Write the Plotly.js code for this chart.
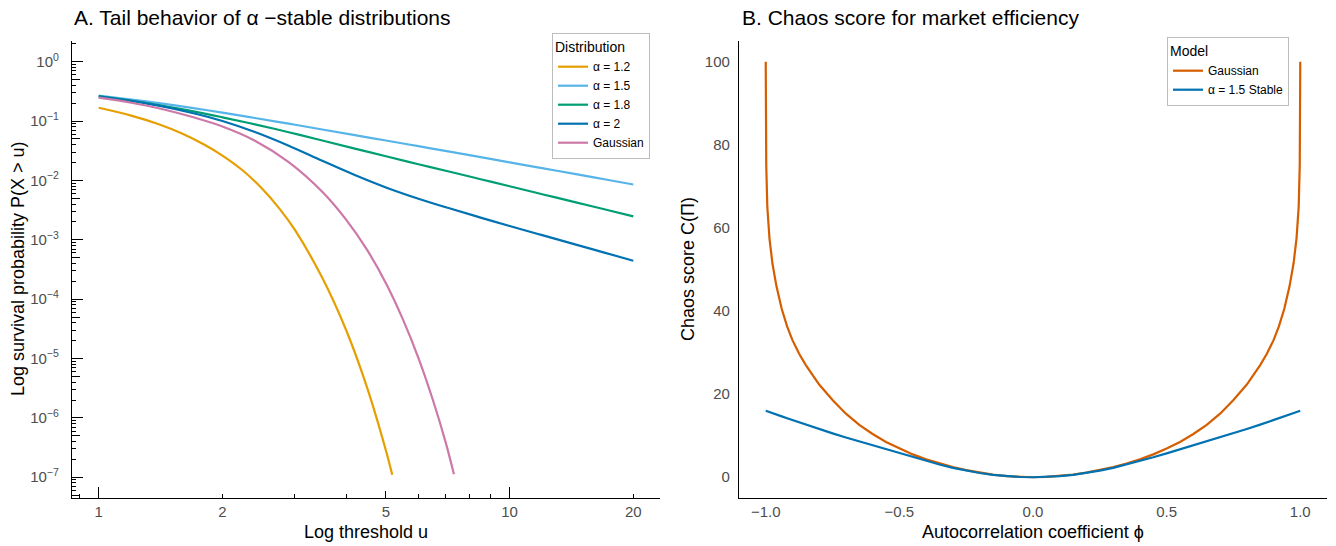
<!DOCTYPE html>
<html>
<head>
<meta charset="utf-8">
<script src="https://cdn.plot.ly/plotly-3.0.1.min.js"></script>
<style>html,body{margin:0;padding:0;background:#fff;}#chart{width:1336px;height:546px;}</style>
</head>
<body>
<div id="chart"></div>
<script>
// ---------- Panel A: tail behaviour (log-log) ----------
const seriesNamesA = ["α = 1.2", "α = 1.5", "α = 1.8", "α = 2", "Gaussian"];
const colorsA = ["#E69F00", "#56B4E9", "#009E73", "#0072B2", "#CC79A7"];

const uAlpha12 = [1, 1.2, 1.4, 1.6, 1.8, 2, 2.25, 2.5, 2.75, 3, 3.5, 4, 4.5, 5, 5.18];
const pAlpha12 = [0.168, 0.124, 0.0887, 0.0614, 0.0407, 0.0263, 0.01445, 0.00724, 0.00339, 0.00148, 2.29e-4, 3.02e-5, 3.24e-6, 2.82e-7, 1.1e-7];

const uStable = [1, 1.2, 1.4, 1.7, 2, 2.4, 2.9, 3.5, 4.2, 5, 6, 7.2, 8.5, 10, 12, 14.5, 17, 20];
const pAlpha15 = [0.269, 0.231, 0.201, 0.166, 0.139, 0.113, 0.0906, 0.0723, 0.0581, 0.0471, 0.0378, 0.0303, 0.0247, 0.0202, 0.0161, 0.0128, 0.0105, 0.00855];
const pAlpha18 = [0.262, 0.221, 0.186, 0.146, 0.116, 0.0883, 0.0650, 0.0472, 0.0344, 0.0256, 0.0188, 0.0139, 0.0105, 0.00798, 0.00587, 0.00428, 0.00327, 0.00249];
const pAlpha20 = [0.262, 0.219, 0.182, 0.136, 0.1007, 0.0656, 0.0386, 0.0215, 0.01236, 0.00764, 0.00493, 0.00333, 0.00237, 0.00171, 0.0012, 0.00083, 0.00061, 0.000443];

const uGauss = [1, 1.2, 1.4, 1.7, 2, 2.4, 2.9, 3.5, 4, 4.5, 5, 5.5, 6, 6.5, 7, 7.32];
const pGauss = [0.248, 0.204, 0.165, 0.116, 0.0813, 0.0468, 0.0204, 0.00646, 0.00219, 6.76e-4, 1.86e-4, 4.57e-5, 1.02e-5, 2.04e-6, 3.72e-7, 1.12e-7];

const xTickValsA = [1, 2, 5, 10, 20];
const xTickTextA = ["1", "2", "5", "10", "20"];
const yTickValsA = [1, 0.1, 0.01, 0.001, 1e-4, 1e-5, 1e-6, 1e-7];
const yTickTextA = ["10<sup>0</sup>", "10<sup>−1</sup>", "10<sup>−2</sup>", "10<sup>−3</sup>", "10<sup>−4</sup>", "10<sup>−5</sup>", "10<sup>−6</sup>", "10<sup>−7</sup>"];

// ---------- Panel B: chaos score ----------
const phi = [-1, -0.998, -0.994, -0.986, -0.975, -0.96, -0.94, -0.92, -0.9, -0.875, -0.85, -0.8, -0.75, -0.7, -0.65, -0.6, -0.55, -0.5, -0.45, -0.4, -0.35, -0.3, -0.25, -0.2, -0.15, -0.1, -0.05, 0,
             0.05, 0.1, 0.15, 0.2, 0.25, 0.3, 0.35, 0.4, 0.45, 0.5, 0.55, 0.6, 0.65, 0.7, 0.75, 0.8, 0.85, 0.875, 0.9, 0.92, 0.94, 0.96, 0.975, 0.986, 0.994, 0.998, 1];
const chaosGaussian = [100, 75, 65, 57.5, 51.5, 46, 40.5, 36.3, 33, 29.7, 27, 22.3, 18.6, 15.3, 12.6, 10.4, 8.5, 6.9, 5.5, 4.3, 3.3, 2.45, 1.72, 1.12, 0.63, 0.28, 0.07, 0,
                       0.07, 0.28, 0.63, 1.12, 1.72, 2.45, 3.3, 4.3, 5.5, 6.9, 8.5, 10.4, 12.6, 15.3, 18.6, 22.3, 27, 29.7, 33, 36.3, 40.5, 46, 51.5, 57.5, 65, 75, 100];
const chaosStable = [16.0, 15.95, 15.87, 15.7, 15.45, 15.1, 14.65, 14.2, 13.75, 13.2, 12.65, 11.6, 10.55, 9.55, 8.6, 7.65, 6.7, 5.75, 4.8, 3.9, 3.05, 2.25, 1.6, 1.02, 0.57, 0.25, 0.06, 0,
                     0.06, 0.25, 0.57, 1.02, 1.6, 2.25, 3.05, 3.9, 4.8, 5.75, 6.7, 7.65, 8.6, 9.55, 10.55, 11.6, 12.65, 13.2, 13.75, 14.2, 14.65, 15.1, 15.45, 15.7, 15.87, 15.95, 16.0];
const seriesNamesB = ["Gaussian", "α = 1.5 Stable"];
const colorsB = ["#D55E00", "#0072B2"];
const xTickValsB = [-1, -0.5, 0, 0.5, 1];
const yTickValsB = [0, 20, 40, 60, 80, 100];

// ---------- build traces ----------
const uA = [uAlpha12, uStable, uStable, uStable, uGauss];
const pA = [pAlpha12, pAlpha15, pAlpha18, pAlpha20, pGauss];
const traces = [];
for (let i = 0; i < uA.length; i++) {
  traces.push({
    x: uA[i], y: pA[i], type: "scatter", mode: "lines", name: seriesNamesA[i],
    line: {color: colorsA[i], width: 2.2, shape: "spline", smoothing: 1},
    xaxis: "x", yaxis: "y", legend: "legend"
  });
}
// carrier for the extra (long / mid) log tick marks of panel A
traces.push({x: [1], y: [1], xaxis: "x3", yaxis: "y3", mode: "markers",
  marker: {opacity: 0, size: 1}, showlegend: false, hoverinfo: "skip"});

const seriesB = [chaosGaussian, chaosStable];
for (let i = 0; i < seriesB.length; i++) {
  traces.push({
    x: phi, y: seriesB[i], type: "scatter", mode: "lines", name: seriesNamesB[i],
    line: {color: colorsB[i], width: 2.2},
    xaxis: "x2", yaxis: "y2", legend: "legend2"
  });
}

// log minor tick positions
const yMinorShort = [];
const yMid = [];
for (let k = -8; k <= 0; k++) {
  [2, 3, 4, 6, 7, 8, 9].forEach(d => yMinorShort.push(d * Math.pow(10, k)));
  yMid.push(5 * Math.pow(10, k));
}
const xMinorShort = [0.9, 3, 4, 6, 7, 8, 9];

const W = 1336, H = 546;
const px = v => v / W;
const py = v => (H - v) / H;
const domXA = [px(72), px(660)];
const domXB = [px(739), px(1327)];
const domY = [py(498), py(41)];
const xRangeA = [-0.065, 1.366];
const yRangeA = [-7.35, 0.35];
const tickFont = {family: "Liberation Sans, Arial, sans-serif", size: 15, color: "#4D4D4D"};

const layout = {
  width: W, height: H,
  margin: {l: 0, r: 0, t: 0, b: 0},
  paper_bgcolor: "#FFFFFF", plot_bgcolor: "#FFFFFF",
  font: {family: "Liberation Sans, Arial, sans-serif", color: "#000000"},
  showlegend: true,
  xaxis: {
    type: "log", domain: domXA, range: xRangeA, anchor: "y",
    showline: true, linecolor: "#000000", linewidth: 1.3, mirror: false,
    showgrid: false, zeroline: false,
    tickmode: "array", tickvals: xTickValsA, ticktext: xTickTextA,
    ticks: "inside", ticklen: 4, tickwidth: 1.2, tickcolor: "#000000",
    tickfont: tickFont, ticklabelstandoff: 0,
    minor: {tickmode: "array", tickvals: xMinorShort, ticks: "inside", ticklen: 4, tickwidth: 1.2, tickcolor: "#000000", showgrid: false}
  },
  yaxis: {
    type: "log", domain: domY, range: yRangeA, anchor: "x",
    showline: true, linecolor: "#000000", linewidth: 1.3,
    showgrid: false, zeroline: false,
    tickmode: "array", tickvals: yTickValsA, ticktext: yTickTextA,
    ticks: "inside", ticklen: 11, tickwidth: 1.2, tickcolor: "#000000",
    tickfont: tickFont, ticklabelstandoff: 9,
    minor: {tickmode: "array", tickvals: yMinorShort, ticks: "inside", ticklen: 4, tickwidth: 1.2, tickcolor: "#000000", showgrid: false}
  },
  xaxis3: {
    type: "log", overlaying: "x", anchor: "y", range: xRangeA,
    showline: false, showgrid: false, zeroline: false, showticklabels: false,
    tickmode: "array", tickvals: [1, 10], ticks: "inside", ticklen: 11, tickwidth: 1.2, tickcolor: "#000000",
    minor: {tickmode: "array", tickvals: [5], ticks: "inside", ticklen: 7.5, tickwidth: 1.2, tickcolor: "#000000", showgrid: false}
  },
  yaxis3: {
    type: "log", overlaying: "y", anchor: "x", side: "left", range: yRangeA,
    showline: false, showgrid: false, zeroline: false, showticklabels: false,
    tickmode: "array", tickvals: yMid, ticks: "inside", ticklen: 7.5, tickwidth: 1.2, tickcolor: "#000000"
  },
  xaxis2: {
    domain: domXB, range: [-1.1, 1.1], anchor: "y2",
    showline: true, linecolor: "#000000", linewidth: 1.2,
    showgrid: false, zeroline: false, ticks: "",
    tickmode: "array", tickvals: xTickValsB, tickformat: ".1f",
    tickfont: tickFont, ticklabelstandoff: 0
  },
  yaxis2: {
    domain: domY, range: [-5, 105], anchor: "x2",
    showline: true, linecolor: "#000000", linewidth: 1.2,
    showgrid: false, zeroline: false, ticks: "",
    tickmode: "array", tickvals: yTickValsB,
    tickfont: tickFont, ticklabelstandoff: 5
  },
  legend: {
    x: px(552), y: py(33), xanchor: "left", yanchor: "top",
    bgcolor: "#FFFFFF", bordercolor: "#BDBDBD", borderwidth: 1,
    font: {size: 12, color: "#000000"},
    title: {text: "Distribution", font: {size: 14, color: "#000000"}},
    tracegroupgap: 0
  },
  legend2: {
    x: px(1167), y: py(37), xanchor: "left", yanchor: "top",
    bgcolor: "#FFFFFF", bordercolor: "#BDBDBD", borderwidth: 1,
    font: {size: 12, color: "#000000"},
    title: {text: "Model", font: {size: 14, color: "#000000"}},
    tracegroupgap: 0
  },
  annotations: [
    {text: "A. Tail behavior of α −stable distributions", xref: "paper", yref: "paper",
     x: px(72), y: py(17), xanchor: "left", yanchor: "middle", showarrow: false,
     font: {size: 21, color: "#000000"}},
    {text: "B. Chaos score for market efficiency", xref: "paper", yref: "paper",
     x: px(740), y: py(17), xanchor: "left", yanchor: "middle", showarrow: false,
     font: {size: 21, color: "#000000"}},
    {text: "Log threshold u", xref: "paper", yref: "paper",
     x: px(366), y: py(532), xanchor: "center", yanchor: "middle", showarrow: false,
     font: {size: 18, color: "#000000"}},
    {text: "Autocorrelation coefficient ϕ", xref: "paper", yref: "paper",
     x: px(1033), y: py(532), xanchor: "center", yanchor: "middle", showarrow: false,
     font: {size: 18, color: "#000000"}},
    {text: "Log survival probability P(X > u)", xref: "paper", yref: "paper",
     x: px(18), y: py(269), xanchor: "center", yanchor: "middle", showarrow: false, textangle: -90,
     font: {size: 18, color: "#000000"}},
    {text: "Chaos score C(Π)", xref: "paper", yref: "paper",
     x: px(688), y: py(269), xanchor: "center", yanchor: "middle", showarrow: false, textangle: -90,
     font: {size: 18, color: "#000000"}}
  ]
};

Plotly.newPlot("chart", traces, layout, {displayModeBar: false, responsive: false});
</script>
</body>
</html>
